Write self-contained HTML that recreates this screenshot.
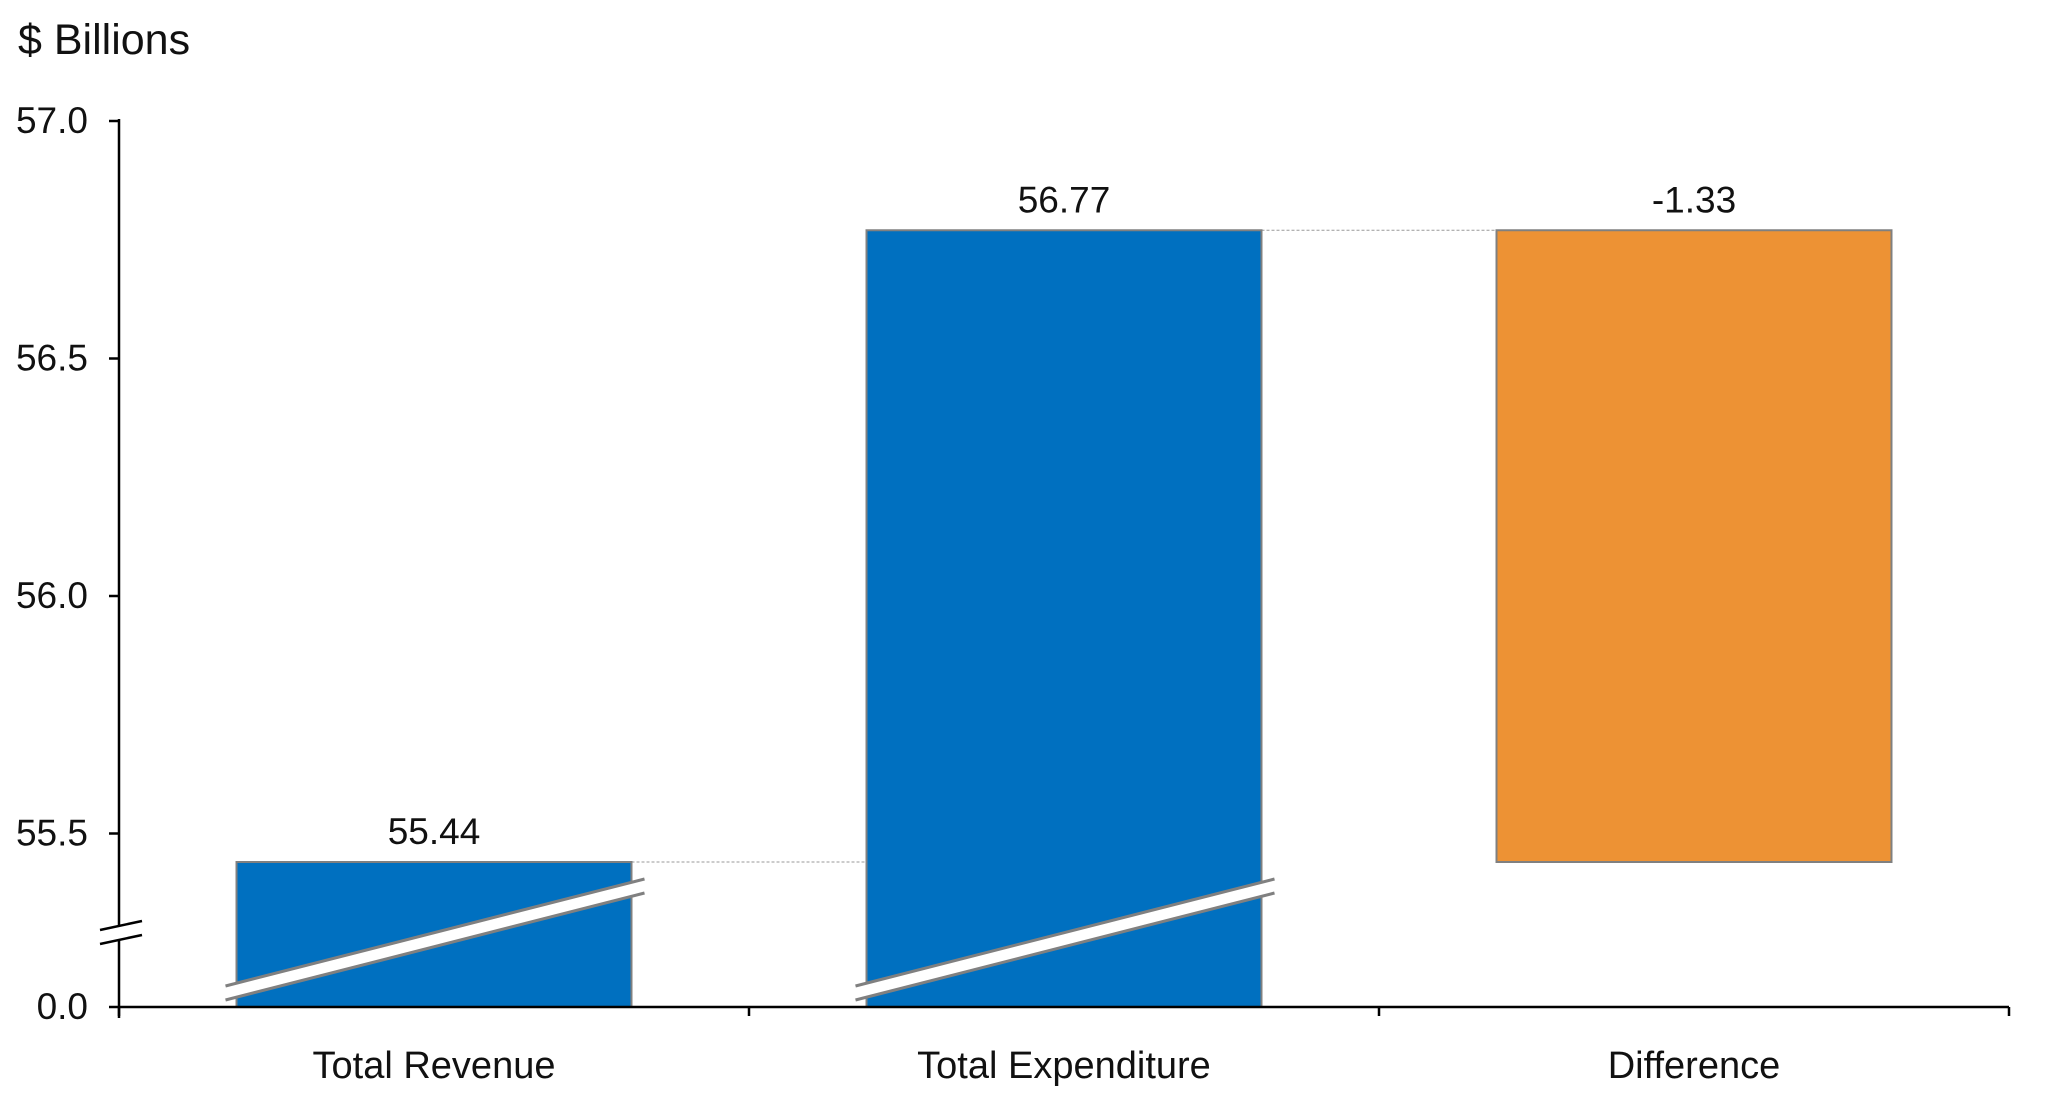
<!DOCTYPE html>
<html><head><meta charset="utf-8"><style>
html,body{margin:0;padding:0;background:#fff;}
svg{display:block;font-family:"Liberation Sans",Arial,sans-serif;}
</style></head><body>
<svg id="chart" width="2048" height="1097" viewBox="0 0 2048 1097">
<text x="18" y="54" font-size="43" fill="#111">$ Billions</text>
<g id="g"></g>
</svg>
<script>
const categories = ["Total Revenue", "Total Expenditure", "Difference"];
const barBase = [0, 0, 55.44];
const barTop = [55.44, 56.77, 56.77];
const valueLabels = ["55.44", "56.77", "-1.33"];
const barColors = ["#0070c0", "#0070c0", "#ed9234"];
const yTicks = [55.5, 56.0, 56.5, 57.0];
const yTickLabels = ["55.5", "56.0", "56.5", "57.0"];

const NS = "http://www.w3.org/2000/svg";
const g = document.getElementById("g");
const axisX = 119, axisRight = 2009, zeroY = 1007;
function y(v){ if (v < 55) return zeroY; return 596 - (v - 56.0) * 475; }
const bandW = (axisRight - axisX) / categories.length;
function xc(i){ return axisX + bandW * (i + 0.5); }
const barW = 395;
function el(tag, attrs){ const e = document.createElementNS(NS, tag); for (const k in attrs) e.setAttribute(k, attrs[k]); g.appendChild(e); return e; }

for (let i = 0; i < categories.length - 1; i++) {
  const c = el("line", {x1: xc(i) + barW/2, x2: xc(i+1) - barW/2, y1: y(barTop[i]), y2: y(barTop[i]), stroke: "#999", "stroke-width": 1, "stroke-dasharray": "3,2"});
  
  
}
categories.forEach((c, i) => {
  const top = y(barTop[i]), bot = y(barBase[i]);
  const r = el("rect", {x: xc(i) - barW/2, y: top, width: barW, height: bot - top, fill: barColors[i], stroke: "#808080", "stroke-width": 2});
  
  
  if (barBase[i] < 55) {
    const x0 = xc(i) - barW/2 - 11, x1 = xc(i) + barW/2 + 13;
    const b = el("polygon", {points: `${x0},986 ${x1},879 ${x1},893 ${x0},1000`, fill: "#fff"});
    
    
    el("line", {x1: x0, y1: 986, x2: x1, y2: 879, stroke: "#808080", "stroke-width": 3});
    el("line", {x1: x0, y1: 1000, x2: x1, y2: 893, stroke: "#808080", "stroke-width": 3});
  }
  const t = el("text", {x: xc(i), y: top - 18, "font-size": 37, "text-anchor": "middle", fill: "#111"});
  t.textContent = valueLabels[i];
  
  
  const cl = el("text", {x: xc(i), y: 1078, "font-size": 38, "text-anchor": "middle", fill: "#111"});
  cl.textContent = c;
  
  
});
const ya = el("path", {d: `M${axisX},119 L${axisX},925 M${axisX},940 L${axisX},1018`, stroke: "#000", "stroke-width": 2.5, fill: "none"});


el("line", {x1: 100, y1: 930, x2: 142, y2: 921, stroke: "#000", "stroke-width": 2.5});
el("line", {x1: 100, y1: 944, x2: 142, y2: 935, stroke: "#000", "stroke-width": 2.5});
const xa = el("line", {x1: axisX, x2: axisRight, y1: zeroY, y2: zeroY, stroke: "#000", "stroke-width": 2.5});


for (let i = 0; i <= categories.length; i++) {
  el("line", {x1: axisX + bandW*i, x2: axisX + bandW*i, y1: zeroY, y2: zeroY + 9, stroke: "#000", "stroke-width": 2.5});
}
yTicks.forEach((v, i) => {
  el("line", {x1: axisX - 10, x2: axisX, y1: y(v), y2: y(v), stroke: "#000", "stroke-width": 2.5});
  const t = el("text", {x: 88, y: y(v) + 12, "font-size": 37, "text-anchor": "end", fill: "#111"});
  t.textContent = yTickLabels[i];
  
  
});
el("line", {x1: axisX - 10, x2: axisX, y1: zeroY, y2: zeroY, stroke: "#000", "stroke-width": 2.5});
const z = el("text", {x: 88, y: zeroY + 12, "font-size": 37, "text-anchor": "end", fill: "#111"});
z.textContent = "0.0";


</script>
</body></html>
